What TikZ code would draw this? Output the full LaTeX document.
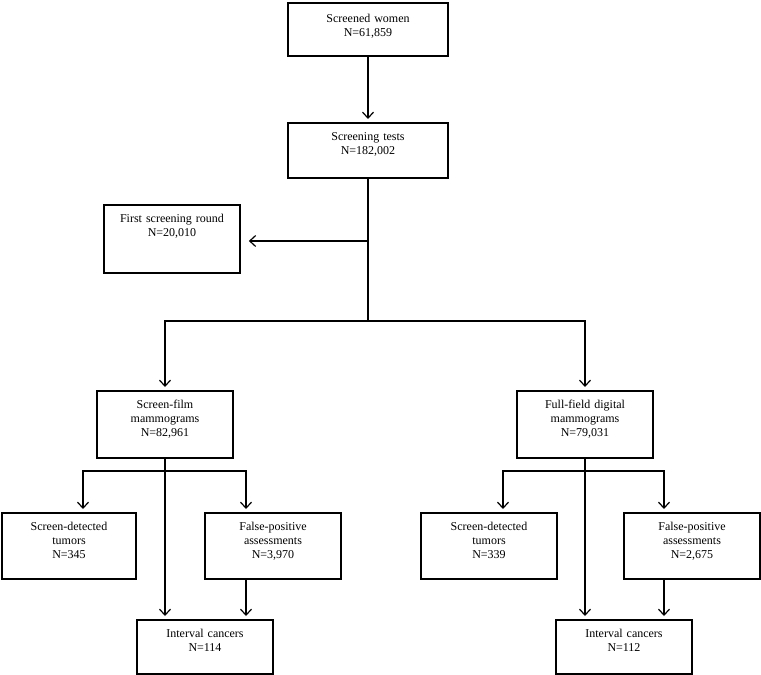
\documentclass[tikz,border=0pt]{standalone}
\usepackage{fontspec}
\setmainfont{Liberation Serif}
\usetikzlibrary{arrows.meta}

\tikzset{
  fbox/.style={draw, line width=1.6pt, align=center, anchor=north,
    inner xsep=0pt, inner ysep=0pt, text height=18pt,
    font=\fontsize{12}{14}\selectfont},
  link/.style={line width=1.3pt}
}

\begin{document}
\begin{tikzpicture}[x=1pt, y=-1pt, >={Straight Barb[length=6pt,width=11pt,line width=1.2pt]}]
    \useasboundingbox (0,0) rectangle (761,675);

    % top of the chart
    \node[fbox, text height=20pt, text depth=33pt, text width=160pt] (sw) at (368,2) {Screened women\\N=61,859};
    \node[fbox, text width=160pt, text depth=37pt] (st) at (368,122) {Screening tests\\N=182,002};
    \node[fbox, text width=136pt, text depth=50pt] (fr) at (172,204) {First screening round\\N=20,010};

    % the two kinds of mammograms
    \node[fbox, text width=136pt, text depth=49pt] (sf) at (165,390) {Screen-film\\mammograms\\N=82,961};
    \node[fbox, text width=136pt, text depth=49pt] (ffd) at (585,390) {Full-field digital\\mammograms\\N=79,031};

    % outcomes, screen-film
    \node[fbox, text width=134pt, text depth=48pt] (sdl) at (69,512) {Screen-detected\\tumors\\N=345};
    \node[fbox, text width=136pt, text depth=48pt] (fpl) at (273,512) {False-positive\\assessments\\N=3,970};
    \node[fbox, text width=136pt, text depth=36pt] (icl) at (205,619) {Interval cancers\\N=114};

    % outcomes, digital
    \node[fbox, text width=136pt, text depth=48pt] (sdr) at (489,512) {Screen-detected\\tumors\\N=339};
    \node[fbox, text width=136pt, text depth=48pt] (fpr) at (692,512) {False-positive\\assessments\\N=2,675};
    \node[fbox, text width=136pt, text depth=36pt] (icr) at (624,619) {Interval cancers\\N=112};

    \coordinate (split) at (368,321);
    \coordinate (lsplit) at (165,471);
    \coordinate (rsplit) at (585,471);

    \draw[link, ->, shorten >=3pt] (sw) -- (st);
    \draw[link] (st) -- (split);
    \draw[link, ->, shorten >=8pt] (st.south |- 0,241) -- (fr.east |- 0,241);
    \draw[link, ->, shorten >=3pt] (split) -| (sf.north);
    \draw[link, ->, shorten >=3pt] (split) -| (ffd.north);

    \draw[link, ->, shorten >=3pt] (sf) -- (sf.south |- icl.north);
    \draw[link, ->, shorten >=3pt] (lsplit) -| ([xshift=14pt]sdl.north);
    \draw[link, ->, shorten >=3pt] (lsplit) -| ([xshift=-27pt]fpl.north);
    \draw[link, ->, shorten >=3pt] ([xshift=-27pt]fpl.south) -- ([xshift=-27pt]fpl.south |- icl.north);

    \draw[link, ->, shorten >=3pt] (ffd) -- (ffd.south |- icr.north);
    \draw[link, ->, shorten >=3pt] (rsplit) -| ([xshift=14pt]sdr.north);
    \draw[link, ->, shorten >=3pt] (rsplit) -| ([xshift=-28pt]fpr.north);
    \draw[link, ->, shorten >=3pt] ([xshift=-28pt]fpr.south) -- ([xshift=-28pt]fpr.south |- icr.north);
\end{tikzpicture}
\end{document}
